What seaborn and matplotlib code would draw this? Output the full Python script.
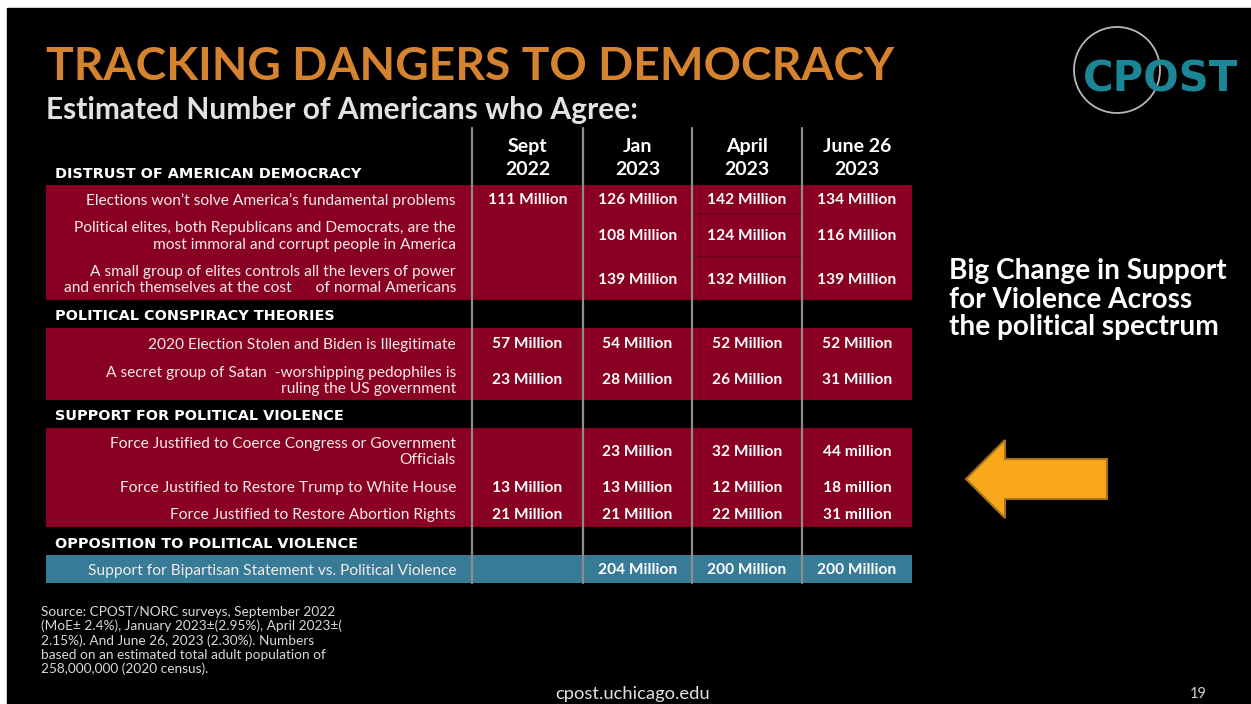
import numpy as np
import matplotlib
matplotlib.use("Agg")
import matplotlib.pyplot as plt
import seaborn as sns
from matplotlib.patches import Rectangle, Polygon, Circle

# ---- content -------------------------------------------------------------
title = "TRACKING DANGERS TO DEMOCRACY"
subtitle = "Estimated Number of Americans who Agree:"
waves = ["Sept\n2022", "Jan\n2023", "April\n2023", "June 26\n2023"]

sections = ["DISTRUST OF AMERICAN DEMOCRACY",
            "POLITICAL CONSPIRACY THEORIES",
            "SUPPORT FOR POLITICAL VIOLENCE",
            "OPPOSITION TO POLITICAL VIOLENCE"]

items = ["Elections won\u2019t solve America\u2019s fundamental problems",
         "Political elites, both Republicans and Democrats, are the\nmost immoral and corrupt people in America",
         "A small group of elites controls all the levers of power\nand enrich themselves at the cost      of normal Americans",
         "2020 Election Stolen and Biden is Illegitimate",
         "A secret group of Satan  -worshipping pedophiles is\nruling the US government",
         "Force Justified to Coerce Congress or Government\nOfficials",
         "Force Justified to Restore Trump to White House",
         "Force Justified to Restore Abortion Rights",
         "Support for Bipartisan Statement vs. Political Violence"]
item_section = [0, 0, 0, 1, 1, 2, 2, 2, 3]

# estimated number of Americans (millions), nan = not asked
sept22 = [111, np.nan, np.nan, 57, 23, np.nan, 13, 21, np.nan]
jan23 = [126, 108, 139, 54, 28, 23, 13, 21, 204]
apr23 = [142, 124, 132, 52, 26, 32, 12, 22, 200]
jun23 = [134, 116, 139, 52, 31, 44, 18, 31, 200]
lower_unit = {(5, 3), (6, 3), (7, 3)}   # printed as "million" on the slide

callout = ["Big Change in Support", "for Violence Across", "the political spectrum"]
source = ["Source: CPOST/NORC surveys, September 2022",
          "(MoE\u00b1 2.4%), January 2023\u00b1(2.95%), April 2023\u00b1(",
          "2.15%). And June 26, 2023 (2.30%). Numbers",
          "based on an estimated total adult population of",
          "258,000,000 (2020 census)."]

# ---- style ---------------------------------------------------------------
sns.set_theme(style="white", rc={"figure.facecolor": "white", "axes.facecolor": "black"})
plt.rcParams["font.family"] = ["Lato", "DejaVu Sans"]

maroon, teal, orange, grey = sns.color_palette(["#8a0022", "#387b96", "#d5832f", "#8c8c8c"])

W, H = 1251, 704
fig = plt.figure(figsize=(W / 100, H / 100), dpi=100)
ax = fig.add_axes([0, 0, 1, 1])
ax.set_xlim(0, W)
ax.set_ylim(H, 0)
ax.axis("off")
ax.add_patch(Rectangle((7, 8), W - 7, H - 8, color="black", zorder=0))
renderer = fig.canvas.get_renderer()


def fit(x, y, s, width, size=12, **kw):
    t = ax.text(x, y, s, fontsize=size, **kw)
    bb = t.get_window_extent(renderer)
    t.set_fontsize(size * width / bb.width)
    return t


# title block
fit(46, 63, title, 845, color=orange, fontweight="bold", va="center_baseline")
fit(46, 107, subtitle, 588, color="#e2e2e2", fontweight="bold", va="center_baseline")

# table layout
label_x0, table_x1 = 46, 912
col_edges = [472, 583, 692, 802, 912]
col_mid = [(a + b) / 2 for a, b in zip(col_edges[:-1], col_edges[1:])]
row_h = [28, 43, 44, 30, 42, 44, 28, 27, 28]
band_h = 28

for j, w in enumerate(waves):
    ax.text(col_mid[j], 158, w, color="white", fontsize=14, fontweight="bold",
            ha="center", va="center", linespacing=1.37)

cols = [sept22, jan23, apr23, jun23]
y = 185 - band_h
prev = -1
for i, lab in enumerate(items):
    sec = item_section[i]
    if sec != prev:
        ax.text(55, y + band_h / 2 + 1, sections[sec], color="white", fontsize=10.4,
                fontweight="bold", va="center_baseline", family="DejaVu Sans")
        y += band_h
        prev = sec
    h = row_h[i]
    fc = teal if sec == 3 else maroon
    ax.add_patch(Rectangle((label_x0, y), table_x1 - label_x0, h, color=fc, zorder=1, lw=0))
    ax.text(456, y + h / 2 + 2, lab, color="#f3eaea", fontsize=11.2, ha="right", va="center",
            multialignment="right", linespacing=1.22, zorder=3)
    for j, col in enumerate(cols):
        v = col[i]
        if np.isnan(v):
            continue
        unit = "million" if (i, j) in lower_unit else "Million"
        ax.text(col_mid[j], y + h / 2, f"{int(v)} {unit}", color="white", fontsize=11.2,
                fontweight="bold", ha="center", va="center_baseline", zorder=3)
    # faint cell rules in the April column of the first block
    if i in (0, 1):
        ax.plot([col_edges[2], col_edges[3]], [y + h, y + h], color="#6a0018", lw=1, zorder=2)
    y += h

for x in col_edges[:-1]:
    ax.plot([x, x], [128, y], color=grey, lw=1.6, zorder=4)

# call-out on the right
first = fit(949, 269, callout[0], 276, color="white", fontweight="bold", va="center_baseline")
for k, line in enumerate(callout[1:], start=1):
    ax.text(949, 269 + 28 * k, line, color="white", fontweight="bold",
            va="center_baseline", fontsize=first.get_fontsize())

ax.add_patch(Polygon([(966, 479), (1005, 440), (1005, 459), (1107, 459),
                      (1107, 499), (1005, 499), (1005, 518)], closed=True,
                     facecolor="#f9a81c", edgecolor="#a8731c", lw=1.5, zorder=3))

# logo
ax.add_patch(Circle((1117, 70), 43, fill=False, edgecolor="#b8b8b8", lw=1.3, zorder=3))
fit(1083, 75, "CPOST", 155, color="#1b8796", fontweight="bold", va="center_baseline",
    family="DejaVu Sans", zorder=4)

# footnotes
for k, line in enumerate(source):
    ax.text(41, 611 + 14.2 * k, line, color="#d9d9d9", fontsize=9.8, va="center_baseline")
fit(555, 692, "cpost.uchicago.edu", 154, color="#e0e0e0", va="center_baseline")
ax.text(1198, 692, "19", color="#d0d0d0", fontsize=10.5, ha="center", va="center_baseline")

fig.savefig("out.png", dpi=100, facecolor="white")
